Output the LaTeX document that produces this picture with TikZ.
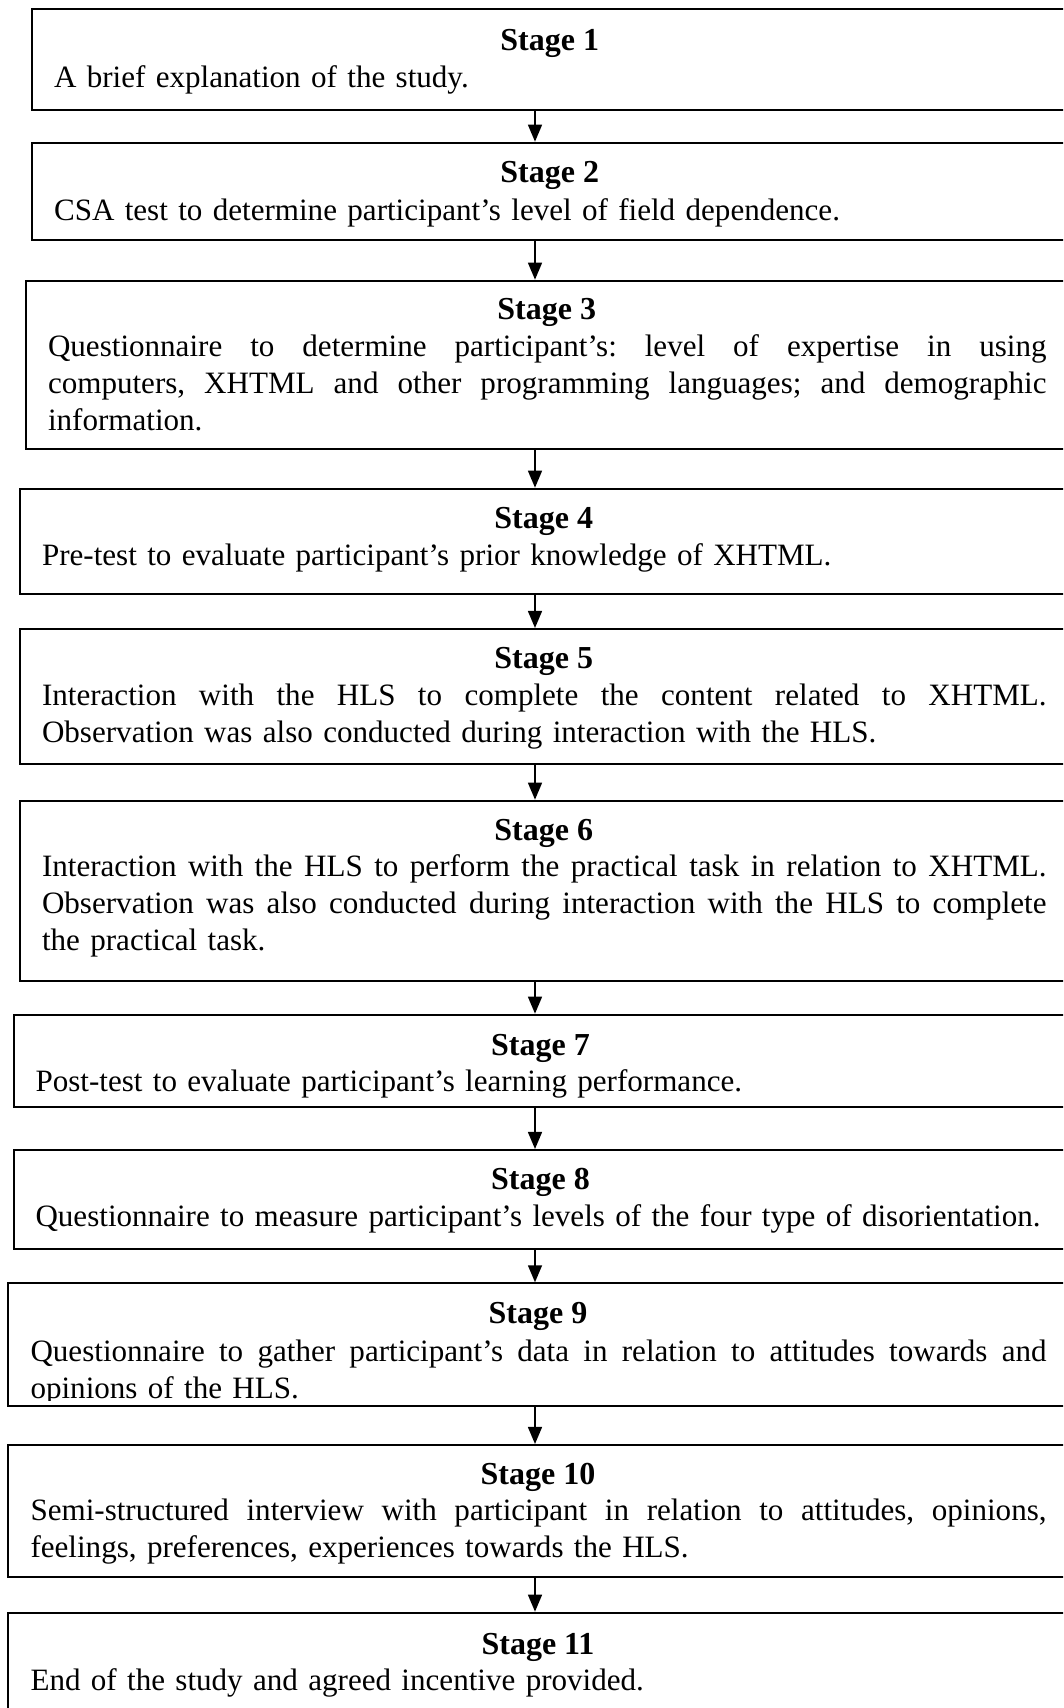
\documentclass[tikz,border=0pt]{standalone}
\usepackage{fontspec}
\setmainfont{Liberation Serif}
\usetikzlibrary{arrows.meta,fit}
% one justified line: word spaces stretch evenly to fill the text width
\newcommand\jline[1]{\hbox to \hsize{\frenchspacing\spaceskip=0.25em plus 1fil\relax #1}}
\tikzset{
  stagebox/.style={draw, line width=0.75pt, inner sep=0pt},
  stagetitle/.style={anchor=base, inner sep=0pt, font=\fontsize{12pt}{13.875pt}\selectfont\bfseries},
  stagebody/.style={anchor=base west, inner sep=0pt, text width=#1,
    font=\fontsize{11.65pt}{13.875pt}\selectfont},
  flow/.style={line width=0.75pt, -{Triangle[length=6.4pt,width=5.2pt]}}
}
\begin{document}
\begin{tikzpicture}[x=0.375pt, y=-0.375pt]
\useasboundingbox (0,0) rectangle (1063,1708);
\clip (0,0) rectangle (1063,1708);

\coordinate (axis) at (535,0);

% Stage 1
\node[stagebox, fit={(32,9.3) (1068,110)}] (b1) {};
\node[stagetitle] (t1) at (549.75,50.7) {Stage 1};
\node[stagebody=372.19pt] (d1) at (53.5,87.3) {A brief explanation of the study.};

% Stage 2
\node[stagebox, fit={(32,142.7) (1068,240)}] (b2) {};
\node[stagetitle] (t2) at (549.75,182.7) {Stage 2};
\node[stagebody=372.19pt] (d2) at (53.5,220.7) {CSA test to determine participant’s level of field dependence.};

% Stage 3
\node[stagebox, fit={(26,280.7) (1068,449)}] (b3) {};
\node[stagetitle] (t3) at (546.75,319) {Stage 3};
\node[stagebody=374.44pt] (d3) at (47.5,356) {\jline{Questionnaire to determine participant’s: level of expertise in using}
\jline{computers, XHTML and other programming languages; and demographic}
\hbox{information.}};

% Stage 4
\node[stagebox, fit={(20,488.7) (1068,594)}] (b4) {};
\node[stagetitle] (t4) at (543.75,528.3) {Stage 4};
\node[stagebody=376.69pt] (d4) at (41.5,565) {Pre-test to evaluate participant’s prior knowledge of XHTML.};

% Stage 5
\node[stagebox, fit={(20,629) (1068,764)}] (b5) {};
\node[stagetitle] (t5) at (543.75,668.3) {Stage 5};
\node[stagebody=376.69pt] (d5) at (41.5,705) {\jline{Interaction with the HLS to complete the content related to XHTML.}
\hbox{Observation was also conducted during interaction with the HLS.}};

% Stage 6
\node[stagebox, fit={(20,800.7) (1068,980.7)}] (b6) {};
\node[stagetitle] (t6) at (543.75,840) {Stage 6};
\node[stagebody=376.69pt] (d6) at (41.5,876.7) {\jline{Interaction with the HLS to perform the practical task in relation to XHTML.}
\jline{Observation was also conducted during interaction with the HLS to complete}
\hbox{the practical task.}};

% Stage 7
\node[stagebox, fit={(13.6,1014.7) (1068,1106.7)}] (b7) {};
\node[stagetitle] (t7) at (540.5,1055) {Stage 7};
\node[stagebody=379.13pt] (d7) at (35,1091.7) {Post-test to evaluate participant’s learning performance.};

% Stage 8
\node[stagebox, fit={(13.6,1150) (1068,1248.7)}] (b8) {};
\node[stagetitle] (t8) at (540.5,1189.3) {Stage 8};
\node[stagebody=379.13pt] (d8) at (35,1226) {\mbox{Questionnaire to measure participant’s levels of the four type of disorientation.}};

% Stage 9 (its second line is cut off above the frame)
\node[stagebox, fit={(8.3,1283.3) (1068,1406)}] (b9) {};
\node[stagetitle] (t9) at (538,1323.3) {Stage 9};
\begin{scope}
\clip (0,1283.3) rectangle (1063,1400.5);
\node[stagebody=381pt] (d9) at (30,1361.7) {\jline{Questionnaire to gather participant’s data in relation to attitudes towards and}
\hbox{opinions of the HLS.}};
\end{scope}

% Stage 10
\node[stagebox, fit={(8.3,1445) (1068,1576.7)}] (b10) {};
\node[stagetitle] (t10) at (538,1484) {Stage 10};
\node[stagebody=381pt] (d10) at (30,1520) {\jline{Semi-structured interview with participant in relation to attitudes, opinions,}
\hbox{feelings, preferences, experiences towards the HLS.}};

% Stage 11
\node[stagebox, fit={(8.3,1612.7) (1068,1730)}] (b11) {};
\node[stagetitle] (t11) at (538,1654) {Stage 11};
\node[stagebody=381pt] (d11) at (30,1690) {End of the study and agreed incentive provided.};

% connectors between consecutive stages
\foreach \a/\b in {b1/b2,b2/b3,b3/b4,b4/b5,b5/b6,b6/b7,b7/b8,b8/b9,b9/b10,b10/b11}
  \draw[flow] (\a.south -| axis) -- (\b.north -| axis);
\end{tikzpicture}
\end{document}
